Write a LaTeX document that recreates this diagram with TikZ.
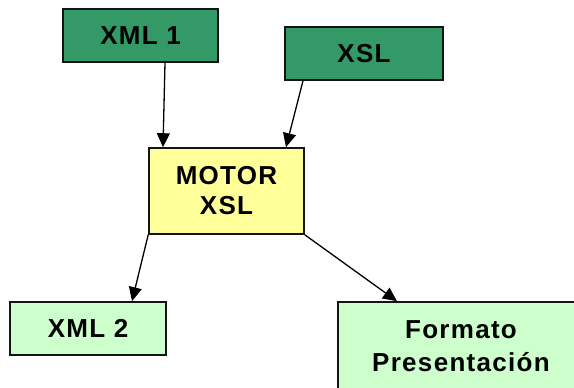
\documentclass[tikz,border=0pt]{standalone}
\usepackage{fontspec}
\setmainfont{Liberation Sans}[LetterSpace=5]
\usetikzlibrary{arrows.meta}
\definecolor{darkgreen}{HTML}{339966}
\definecolor{paleyellow}{HTML}{FFFF99}
\definecolor{palegreen}{HTML}{CCFFCC}
\definecolor{edgegray}{HTML}{141414}
\tikzset{
  box/.style={draw=edgegray, line width=1.6pt, rectangle, inner sep=0pt,
    font=\fontsize{26}{30}\selectfont\bfseries, align=center, text=black},
  link/.style={line width=1.3pt, -{Triangle[width=13pt,length=14pt]}}
}
\begin{document}
\begin{tikzpicture}[x=1pt,y=1pt]
  \useasboundingbox (0,0) rectangle (574,-388);
  \begin{scope}
    \clip (0,0) rectangle (574,-388);
    \node[box, fill=darkgreen, minimum width=155pt, minimum height=53pt] (xml1) at (140.5,-35.5) {XML 1};
    \node[box, fill=darkgreen, minimum width=158pt, minimum height=53pt] (xsl) at (364,-53.5) {XSL};
    \node[box, fill=paleyellow, minimum width=155pt, minimum height=86pt] (motor) at (226.5,-191) {MOTOR\\XSL};
    \node[box, fill=palegreen, minimum width=156pt, minimum height=53pt] (xml2) at (88,-328.5) {XML 2};
    \node[box, fill=palegreen, minimum width=246pt, minimum height=88pt] (fmt) at (461,-346) {Formato\\[3pt]Presentación};

    \draw[link] ([xshift=24.5pt]xml1.south) -- ([xshift=-63.5pt]motor.north);
    \draw[link] ([xshift=-61pt]xsl.south) -- ([xshift=59.5pt]motor.north);
    \draw[link] (motor.south west) -- ([xshift=44pt]xml2.north);
    \draw[link] (motor.south east) -- ([xshift=-64pt]fmt.north);
  \end{scope}
\end{tikzpicture}
\end{document}
